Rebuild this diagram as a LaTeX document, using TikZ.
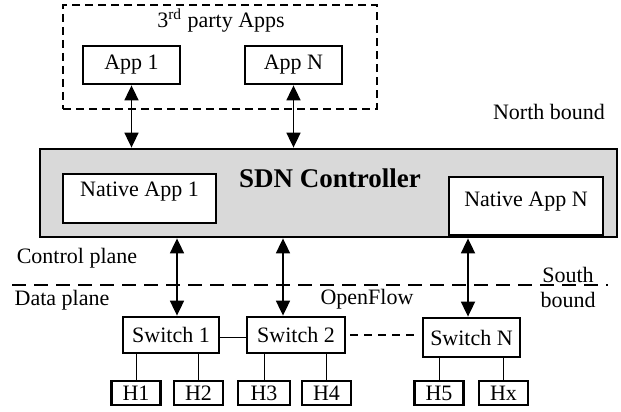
\documentclass[tikz,border=0pt]{standalone}
\usepackage{fontspec}
\setmainfont{Liberation Serif}
\usetikzlibrary{positioning, arrows.meta}
\definecolor{ctrlgray}{RGB}{217,217,217}
\tikzset{
  box/.style={draw, line width=1.4pt, fill=white, inner sep=1pt},
  hostbox/.style={box, minimum width=24.5pt, minimum height=12pt},
  biarrow/.style={{Triangle[width=7pt,length=7.5pt]}-{Triangle[width=7pt,length=7.5pt]}, line width=0.9pt},
  thin link/.style={line width=0.5pt},
}

\begin{document}
\begin{tikzpicture}[x=0.5pt, y=-0.5pt, font=\fontsize{11}{12.5}\selectfont]
  \useasboundingbox (0,0) rectangle (621,412);
  % third party apps
  \node[draw, dashed, line width=1.4pt, dash pattern=on 4pt off 2.5pt, minimum width=157pt, minimum height=52pt] (party) at (220,57) {};
  \node (partylbl) at (221,21) {3\textsuperscript{rd} party Apps};
  \node[box, minimum width=48.5pt, minimum height=19pt] (app1) at (131.5,65) {App 1};
  \node[box, minimum width=48.5pt, minimum height=19pt] (appn) at (293.5,65) {App N};
  \node (north) at (549,112) {North bound};
  % controller
  \node[draw, line width=1.4pt, fill=ctrlgray, minimum width=288.5pt, minimum height=44pt] (ctrl) at (328.5,193) {};
  \node[font=\fontsize{13.5}{14}\selectfont\bfseries] (ctrllbl) at (330,178) {SDN Controller};
  \node[box, minimum width=76.5pt, minimum height=24.5pt, text depth=9pt] (nat1) at (139.5,198.5) {Native App 1};
  \node[box, minimum width=77pt, minimum height=29pt, text depth=6.5pt] (natn) at (526,206) {Native App N};
  \draw[biarrow] (app1.south) -- (app1.south |- ctrl.north);
  \draw[biarrow] (appn.south) -- (appn.south |- ctrl.north);
  % planes
  \node (ctrlplane) at (77,258) {Control plane};
  \node (dataplane) at (62,300) {Data plane};
  \node (openflow) at (367,299) {OpenFlow};
  \node[align=center] (south) at (568,287.5) {South\\bound};
  \coordinate (dl) at (12,285);
  \coordinate (dr) at (608,285);
  \draw[dashed, line width=1pt, dash pattern=on 7pt off 4pt] (dl) -- (dr);
  % switches
  \node[box, minimum width=48pt, minimum height=18pt] (sw1) at (171,335) {Switch 1};
  \node[box, minimum width=49pt, minimum height=18pt] (sw2) at (296,335) {Switch 2};
  \node[box, minimum width=48.5pt, minimum height=19.5pt] (swn) at (471.5,337.5) {Switch N};
  \draw[biarrow] ([xshift=3pt]sw1.north) -- ([xshift=3pt]sw1.north |- ctrl.south);
  \draw[biarrow] ([xshift=-6.5pt]sw2.north) -- ([xshift=-6.5pt]sw2.north |- ctrl.south);
  \draw[biarrow] ([xshift=-1.75pt]swn.north) -- ([xshift=-1.75pt]swn.north |- ctrl.south);
  \draw[thin link] ([yshift=-1pt]sw1.east) -- ([yshift=-1pt]sw2.west);
  \draw[dashed, line width=1pt, dash pattern=on 4pt off 3pt] ([xshift=2pt]sw2.east) -- ([xshift=-2pt]sw2.east -| swn.west);
  % hosts
  \node[hostbox] (h1) at (136,393) {H1};
  \node[hostbox] (h2) at (198.5,393) {H2};
  \node[hostbox, minimum width=26pt] (h3) at (264,393) {H3};
  \node[hostbox] (h4) at (326.5,393) {H4};
  \node[hostbox] (h5) at (439,393) {H5};
  \node[hostbox] (hx) at (503.5,393) {Hx};
  \foreach \h/\s in {h1/sw1, h2/sw1, h3/sw2, h4/sw2, h5/swn, hx/swn}
    \draw[thin link] (\h.north) -- (\h.north |- \s.south);
\end{tikzpicture}
\end{document}
